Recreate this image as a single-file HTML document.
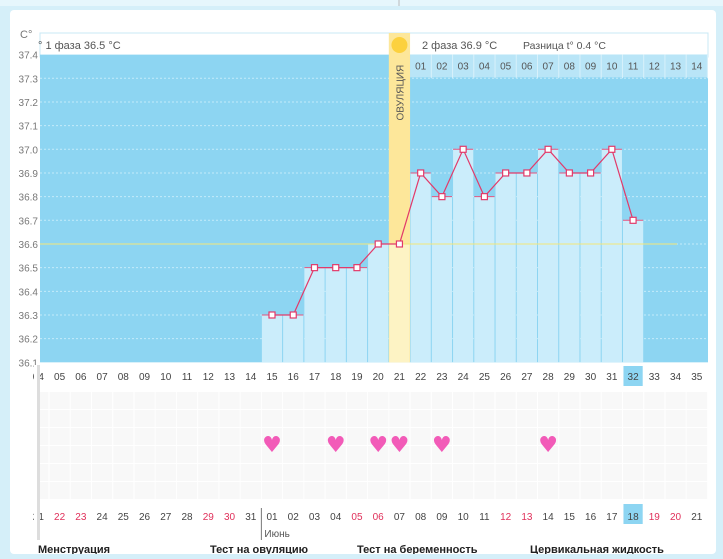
<!DOCTYPE html>
<html><head><meta charset="utf-8"><style>
body{margin:0;width:723px;height:554px;overflow:hidden;background:#d5eff9;font-family:"Liberation Sans","DejaVu Sans",sans-serif;}
</style></head><body>
<svg width="723" height="554" xmlns="http://www.w3.org/2000/svg">
<rect x="10" y="10" width="706" height="544" rx="4" fill="#fff"/>
<rect x="0" y="0" width="723" height="6" fill="#e6f6fc"/>
<line x1="399" y1="0" x2="399" y2="6" stroke="#bbb"/>
<g id="root"></g>
</svg>
<script>
const days=[15,16,17,18,19,20,21,22,23,24,25,26,27,28,29,30,31,32];
const temps=[36.3,36.3,36.5,36.5,36.5,36.6,36.6,36.9,36.8,37.0,36.8,36.9,36.9,37.0,36.9,36.9,37.0,36.7];
const yTicks=[37.4,37.3,37.2,37.1,37.0,36.9,36.8,36.7,36.6,36.5,36.4,36.3,36.2,36.1];
const cycleDays=[4,5,6,7,8,9,10,11,12,13,14,15,16,17,18,19,20,21,22,23,24,25,26,27,28,29,30,31,32,33,34,35];
const dates=["21","22","23","24","25","26","27","28","29","30","31","01","02","03","04","05","06","07","08","09","10","11","12","13","14","15","16","17","18","19","20","21"];
const redDates=[1,2,8,9,15,16,22,23,29,30];
const phase2Days=["01","02","03","04","05","06","07","08","09","10","11","12","13","14"];
const sexDays=[15,18,20,21,23,28];
const coverline=36.6, ovDay=21, today=32;

const NS="http://www.w3.org/2000/svg";
const root=document.getElementById('root');
const X=d=>272+(d-15)*21.24;
const Y=v=>149.3+(37.0-v)*236.7;
const CW=21.24, L=40, R=708;
function el(t,a,txt){const e=document.createElementNS(NS,t);for(const k in a)e.setAttribute(k,a[k]);if(txt!==undefined)e.textContent=txt;root.appendChild(e);return e;}

let e;
e=el('rect',{x:L,y:33,width:R-L,height:24,fill:'#fff',stroke:'#c8e8f5'});

e=el('text',{x:38,y:49,'font-size':11,fill:'#555'},'° 1 фаза 36.5 °C');

e=el('text',{x:422,y:49,'font-size':11,fill:'#555'},'2 фаза 36.9 °C');

e=el('text',{x:523,y:49,'font-size':10.5,fill:'#555'},'Разница t° 0.4 °C');

e=el('text',{x:20,y:38,'font-size':11,fill:'#777'},'C°');


e=el('rect',{x:L,y:Y(37.4),width:R-L,height:Y(36.1)-Y(37.4),fill:'#8dd5f2'});

e=el('rect',{x:X(22)-CW/2,y:Y(37.4),width:R-(X(22)-CW/2),height:Y(37.3)-Y(37.4)-1,fill:'#b9e5f7'});

phase2Days.forEach((t,i)=>{const x=X(22+i);
 el('line',{x1:x+CW/2,y1:Y(37.4),x2:x+CW/2,y2:Y(37.3),stroke:'#d8f1fb'});
 e=el('text',{x:x,y:Y(37.4)+15,'font-size':10,fill:'#555','text-anchor':'middle'},t);
 });
yTicks.forEach(v=>{
 if(v<37.4&&v>36.1){e=el('line',{x1:L,y1:Y(v),x2:R,y2:Y(v),stroke:'#c4ebfa','stroke-dasharray':'2,2'});
 }
 e=el('text',{x:38,y:Y(v)+4,'font-size':10,fill:'#777','text-anchor':'end'},v.toFixed(1));
 
});
e=el('rect',{x:X(ovDay)-CW/2,y:33,width:CW,height:Y(36.1)-33,fill:'#fde79a'});

e=el('circle',{cx:X(ovDay),cy:45,r:8,fill:'#fcd13e'});

e=el('text',{x:0,y:0,'font-size':10,fill:'#555','text-anchor':'middle',transform:`translate(${X(ovDay)+4},${Y(37.4)+38}) rotate(-90)`},'ОВУЛЯЦИЯ');

days.forEach((d,i)=>{const v=temps[i];
 e=el('rect',{x:X(d)-CW/2+0.5,y:Y(v),width:CW-1,height:Y(36.1)-Y(v),fill:d===ovDay?'#fdf3c4':'#cbedfb'});
 
 el('line',{x1:X(d)-CW/2+0.5,y1:Y(v),x2:X(d)+CW/2-0.5,y2:Y(v),stroke:'#e5537e','stroke-width':1});
});
e=el('line',{x1:L,y1:Y(coverline),x2:677,y2:Y(coverline),stroke:'#f3e67a','stroke-width':1});

e=el('polyline',{points:days.map((d,i)=>X(d)+','+Y(temps[i])).join(' '),fill:'none',stroke:'#e23a6a','stroke-width':1.2});

days.forEach((d,i)=>{e=el('rect',{x:X(d)-3,y:Y(temps[i])-3,width:6,height:6,fill:'#fff',stroke:'#e23a6a','stroke-width':1.2});
 });
cycleDays.forEach(d=>{const x=X(d);
 if(d===today){e=el('rect',{x:x-CW/2+1,y:366,width:CW-2,height:20,fill:'#8dd5f2'});}
 e=el('text',{x:x,y:380,'font-size':10,fill:'#444','text-anchor':'middle'},String(d).padStart(2,'0'));
 });
for(let r=0;r<6;r++){el('rect',{x:L,y:392+r*18,width:R-L,height:17,fill:'#f8f8f8'});}
cycleDays.forEach(d=>el('line',{x1:X(d)+CW/2,y1:392,x2:X(d)+CW/2,y2:500,stroke:'#fff'}));
sexDays.forEach(d=>{e=el('text',{x:X(d),y:452,'font-size':22,fill:'#f25bb8','text-anchor':'middle','font-family':'DejaVu Sans'},'♥');
 });
dates.forEach((t,i)=>{const x=X(cycleDays[i]);
 if(cycleDays[i]===today){e=el('rect',{x:x-CW/2+1,y:504,width:CW-2,height:20,fill:'#8dd5f2'});}
 e=el('text',{x:x,y:520,'font-size':10,fill:redDates.includes(i)?'#e0305a':'#444','text-anchor':'middle'},t);
 });
el('line',{x1:X(15)-CW/2,y1:508,x2:X(15)-CW/2,y2:540,stroke:'#777'});
e=el('text',{x:X(15)-CW/2+3,y:537,'font-size':10,fill:'#555'},'Июнь');

el('rect',{x:L-6,y:365,width:5,height:160,fill:'#fff'});
el('rect',{x:L-3,y:365,width:3,height:175,fill:'#ddd'});
[['Менструация',38],['Тест на овуляцию',210],['Тест на беременность',357],['Цервикальная жидкость',530]].forEach(([t,x])=>{
 e=el('text',{x:x,y:553,'font-size':11,'font-weight':'bold',fill:'#222'},t);
 });
</script>
</body></html>
